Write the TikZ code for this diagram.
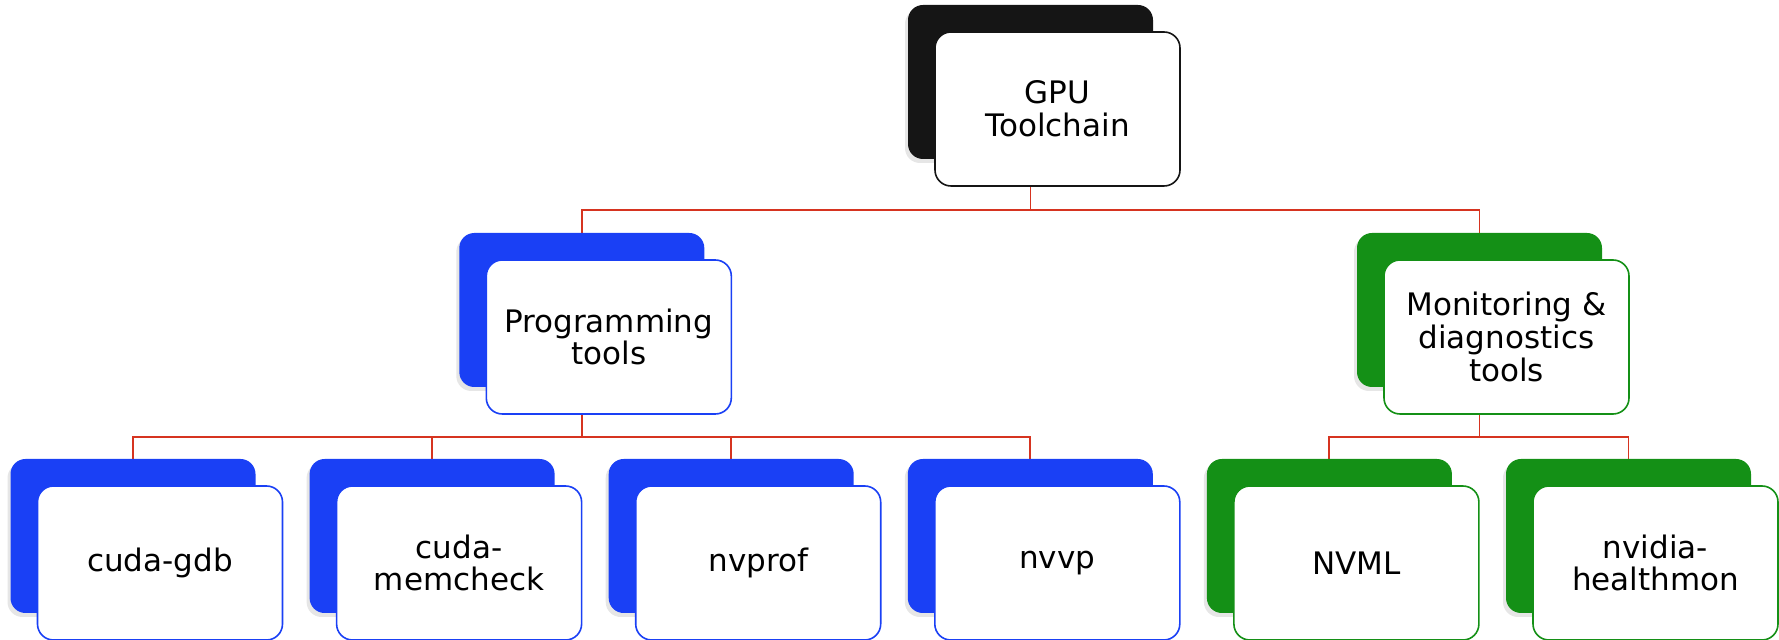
\documentclass[tikz,border=0pt]{standalone}
\usepackage{fontspec}
\setmainfont{DejaVu Sans}
\usepackage{tikz}
\usetikzlibrary{shadows}
\usetikzlibrary{positioning}
\usetikzlibrary{calc,backgrounds}
\definecolor{gpublack}{RGB}{21,21,21}
\definecolor{progblue}{RGB}{26,64,245}
\definecolor{mongreen}{RGB}{20,144,22}
\definecolor{linkred}{RGB}{214,52,32}
\tikzstyle{backbox}=[rectangle,rounded corners=7.5pt,minimum width=122.5pt,minimum height=77pt,inner sep=0pt,drop shadow={shadow xshift=-1.5pt,shadow yshift=-2pt,opacity=0.2}]
\tikzstyle{frontbox}=[rectangle,rounded corners=8pt,fill=white,line width=0.8pt,minimum width=122.5pt,minimum height=77pt,inner sep=0pt,align=center,font=\fontsize{15.5}{16.3}\selectfont]
\tikzstyle{link} = [draw,linkred,line width=0.95pt]

\begin{document}
\begin{tikzpicture}[x=0.5pt,y=-0.5pt]

  \useasboundingbox (0,0) rectangle (1779,640);

  % back box at (x,y), front box shifted by 27
  \foreach \x/\y/\name/\col/\label in {1030.5/82/gpu/gpublack/{GPU\\Toolchain},
      581.8/310/prog/progblue/{Programming\\tools}, 1479.5/310/mon/mongreen/{Monitoring \&\\diagnostics\\tools},
      133/536/gdb/progblue/{cuda-gdb}, 432.1/536/memcheck/progblue/{cuda-\\memcheck},
      731.2/536/nvprof/progblue/{nvprof}, 1030.3/536/nvvp/progblue/{nvvp},
      1329.4/536/nvml/mongreen/{NVML}, 1628.5/536/healthmon/mongreen/{nvidia-\\healthmon}}
  {
     \node[backbox,fill=\col] (b\name) at (\x,\y) {};
     \node[frontbox,draw=\col] (\name) at ($(b\name)+(27,27)$) {\label};
  }

  \begin{scope}[on background layer]
  \foreach \source/ \dest in {gpu/prog, gpu/mon, prog/gdb, prog/memcheck, prog/nvprof, prog/nvvp, mon/nvml, mon/healthmon}
         \path[link] (b\source) |- ($(\source.south)!.5!(b\dest.north)$) -| (b\dest);
  \end{scope}

\end{tikzpicture}
\end{document}
